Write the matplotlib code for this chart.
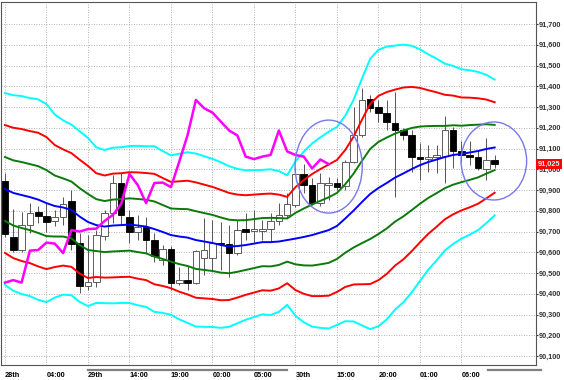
import numpy as np
import pandas as pd
import matplotlib
matplotlib.use("Agg")
import matplotlib.pyplot as plt
from matplotlib.patches import Ellipse
from matplotlib.lines import Line2D

# hourly candles (60 bars)
opens = [90.943, 90.676, 90.611, 90.731, 90.792, 90.777, 90.751, 90.772, 90.847, 90.645,
         90.437, 90.457, 90.678, 90.789, 90.934, 90.772, 90.700, 90.722, 90.657, 90.563,
         90.616, 90.454, 90.466, 90.454, 90.572, 90.572, 90.645, 90.642, 90.596, 90.710,
         90.702, 90.705, 90.712, 90.751, 90.780, 90.828, 90.977, 90.924, 90.837, 90.924,
         90.936, 90.919, 91.037, 91.165, 91.341, 91.298, 91.271, 91.223, 91.187, 91.167,
         91.059, 91.049, 91.061, 91.064, 91.187, 91.086, 91.069, 91.061, 91.001, 91.047]
highs = [90.982, 90.808, 90.794, 90.837, 90.821, 90.837, 90.804, 90.866, 90.900, 90.693,
         90.683, 90.707, 90.804, 90.972, 90.982, 90.804, 90.780, 90.770, 90.693, 90.635,
         90.628, 90.531, 90.534, 90.611, 90.765, 90.755, 90.746, 90.731, 90.755, 90.789,
         90.804, 90.755, 90.789, 90.837, 90.886, 91.006, 91.025, 90.958, 90.982, 90.963,
         90.958, 91.045, 91.300, 91.392, 91.358, 91.334, 91.334, 91.372, 91.199, 91.189,
         91.127, 91.117, 91.117, 91.257, 91.204, 91.134, 91.134, 91.093, 91.151, 91.069]
lows = [90.674, 90.601, 90.601, 90.693, 90.743, 90.698, 90.727, 90.731, 90.611, 90.404,
        90.418, 90.433, 90.659, 90.741, 90.731, 90.645, 90.659, 90.596, 90.553, 90.539,
        90.418, 90.442, 90.418, 90.447, 90.490, 90.514, 90.514, 90.481, 90.587, 90.659,
        90.649, 90.659, 90.649, 90.731, 90.765, 90.818, 90.886, 90.828, 90.823, 90.852,
        90.900, 90.900, 91.030, 91.155, 91.276, 91.228, 91.189, 90.866, 91.141, 90.987,
        90.948, 90.987, 90.982, 90.936, 91.006, 91.035, 91.020, 90.996, 90.948, 91.006]
closes = [90.690, 90.611, 90.731, 90.789, 90.777, 90.748, 90.772, 90.833, 90.640, 90.437,
          90.457, 90.683, 90.789, 90.934, 90.780, 90.700, 90.722, 90.657, 90.580, 90.618,
          90.454, 90.466, 90.454, 90.608, 90.611, 90.647, 90.642, 90.596, 90.707, 90.700,
          90.712, 90.714, 90.751, 90.780, 90.833, 90.977, 90.924, 90.837, 90.934, 90.936,
          90.914, 91.037, 91.165, 91.334, 91.294, 91.273, 91.230, 91.187, 91.163, 91.061,
          91.049, 91.061, 91.069, 91.187, 91.086, 91.069, 91.061, 91.004, 91.047, 91.025]

# bollinger middle line and 1-sigma width
bb_mid = [90.905, 90.886, 90.876, 90.866, 90.854, 90.837, 90.823, 90.816, 90.804, 90.772,
          90.746, 90.731, 90.724, 90.729, 90.731, 90.734, 90.729, 90.724, 90.712, 90.698,
          90.683, 90.676, 90.671, 90.659, 90.652, 90.645, 90.635, 90.628, 90.630, 90.635,
          90.642, 90.649, 90.649, 90.652, 90.659, 90.666, 90.674, 90.683, 90.695, 90.707,
          90.727, 90.763, 90.801, 90.842, 90.881, 90.910, 90.934, 90.960, 90.980, 91.001,
          91.020, 91.035, 91.047, 91.059, 91.069, 91.074, 91.081, 91.088, 91.098, 91.105]
bb_sigma = [0.154, 0.157, 0.159, 0.159, 0.161, 0.159, 0.147, 0.140, 0.137, 0.137,
            0.135, 0.125, 0.123, 0.125, 0.125, 0.126, 0.128, 0.129, 0.133, 0.130,
            0.128, 0.133, 0.137, 0.139, 0.137, 0.135, 0.133, 0.129, 0.124, 0.120,
            0.118, 0.116, 0.117, 0.113, 0.104, 0.124, 0.137, 0.147, 0.153, 0.158,
            0.159, 0.165, 0.178, 0.198, 0.217, 0.222, 0.219, 0.212, 0.207, 0.198,
            0.186, 0.173, 0.162, 0.150, 0.143, 0.136, 0.132, 0.127, 0.119, 0.109]
chikou_shift = 20

x_labels = ["28th", "04:00", "29th", "14:00", "19:00", "00:00",
            "05:00", "30th", "15:00", "20:00", "01:00", "06:00"]
y_levels = [90.1, 90.2, 90.3, 90.4, 90.5, 90.6, 90.7, 90.8, 90.9,
            91.0, 91.1, 91.2, 91.3, 91.4, 91.5, 91.6, 91.7]
last_price = 91.025

# highlight circles: (bar, price, width in bars, height in price)
circles = [(39.0, 91.013, 8.1, 0.448), (58.9, 91.040, 7.9, 0.376)]

df = pd.DataFrame({"open": opens, "high": highs, "low": lows, "close": closes,
                   "mid": bb_mid, "sd": bb_sigma})
df["chikou"] = df["close"].shift(-chikou_shift)
x = np.arange(len(df))

fig = plt.figure(figsize=(5.64, 3.80), dpi=100)
ax = fig.add_axes([1 / 564, 1 - 365 / 380, 535 / 564, 363 / 380])
ax.set_xlim(-0.48, 63.98)
ax.set_ylim(90.057, 91.806)

tick_font = dict(family=["Liberation Sans", "DejaVu Sans"], size=5.3, weight="bold")

# grid
for lv in y_levels:
    ax.axhline(lv, color="#9a9a9a", lw=0.6, ls=(0, (1, 2)), zorder=0)
for xv in range(0, 60, 5):
    ax.axvline(xv, color="#9a9a9a", lw=0.6, ls=(0, (1, 2)), zorder=0)

# candles
up = df["close"] >= df["open"]
ax.vlines(x, df["low"], df["high"], color="#555555", lw=0.7, zorder=2)
body = (df["close"] - df["open"]).abs()
bottom = df[["open", "close"]].min(axis=1)
ax.bar(x[up], body[up], bottom=bottom[up], width=0.8, color="white",
       edgecolor="#444444", linewidth=0.6, zorder=3)
ax.bar(x[~up], body[~up], bottom=bottom[~up], width=0.8, color="black",
       edgecolor="black", linewidth=0.6, zorder=3)

# bands
band_colors = {1: "#0a7a0a", 2: "#ff0000", 3: "#00ffff"}
for k, col in band_colors.items():
    ax.plot(x, df["mid"] + k * df["sd"], color=col, lw=1.4, zorder=4)
    ax.plot(x, df["mid"] - k * df["sd"], color=col, lw=1.4, zorder=4)
ax.plot(x, df["mid"], color="#0000ff", lw=1.4, zorder=4)
ax.plot(x, df["chikou"], color="#ff00ff", lw=1.8, zorder=5)

for cx, cy, w, h in circles:
    ax.add_patch(Ellipse((cx, cy), w, h, fill=False, edgecolor="#7878ee",
                         lw=1.0, zorder=6, clip_on=False))

# axes styling
for sp in ax.spines.values():
    sp.set_color("#555555")
    sp.set_linewidth(0.8)
ax.yaxis.tick_right()
ax.set_yticks(y_levels)
ax.set_yticklabels([f"{v:.3f}".replace(".", ",") for v in y_levels], **tick_font)
ax.tick_params(axis="y", length=1.5, pad=0.5, colors="#333333")
ax.set_xticks(np.arange(0, 60, 5))
ax.set_xticklabels(x_labels, **tick_font)
ax.tick_params(axis="x", length=0, pad=5)
for lab in ax.get_xticklabels():
    lab.set_ha("left")

# current price tag
ax.annotate(f"{last_price:.3f}".replace(".", ","), xy=(1.0, last_price),
            xycoords=("axes fraction", "data"), xytext=(1.3, 0), textcoords="offset points",
            va="center", ha="left", color="#b8ffff",
            bbox=dict(boxstyle="square,pad=0.2", fc="#ff0000", ec="none"), **tick_font)

# gray scroll marks under the time axis
fig.add_artist(Line2D([88 / 564, 287 / 564], [1 - 370 / 380] * 2, color="#808080", lw=1.6))
fig.add_artist(Line2D([488 / 564, 541 / 564], [1 - 370 / 380] * 2, color="#808080", lw=1.6))

fig.savefig("out.png", dpi=100, facecolor="white")
